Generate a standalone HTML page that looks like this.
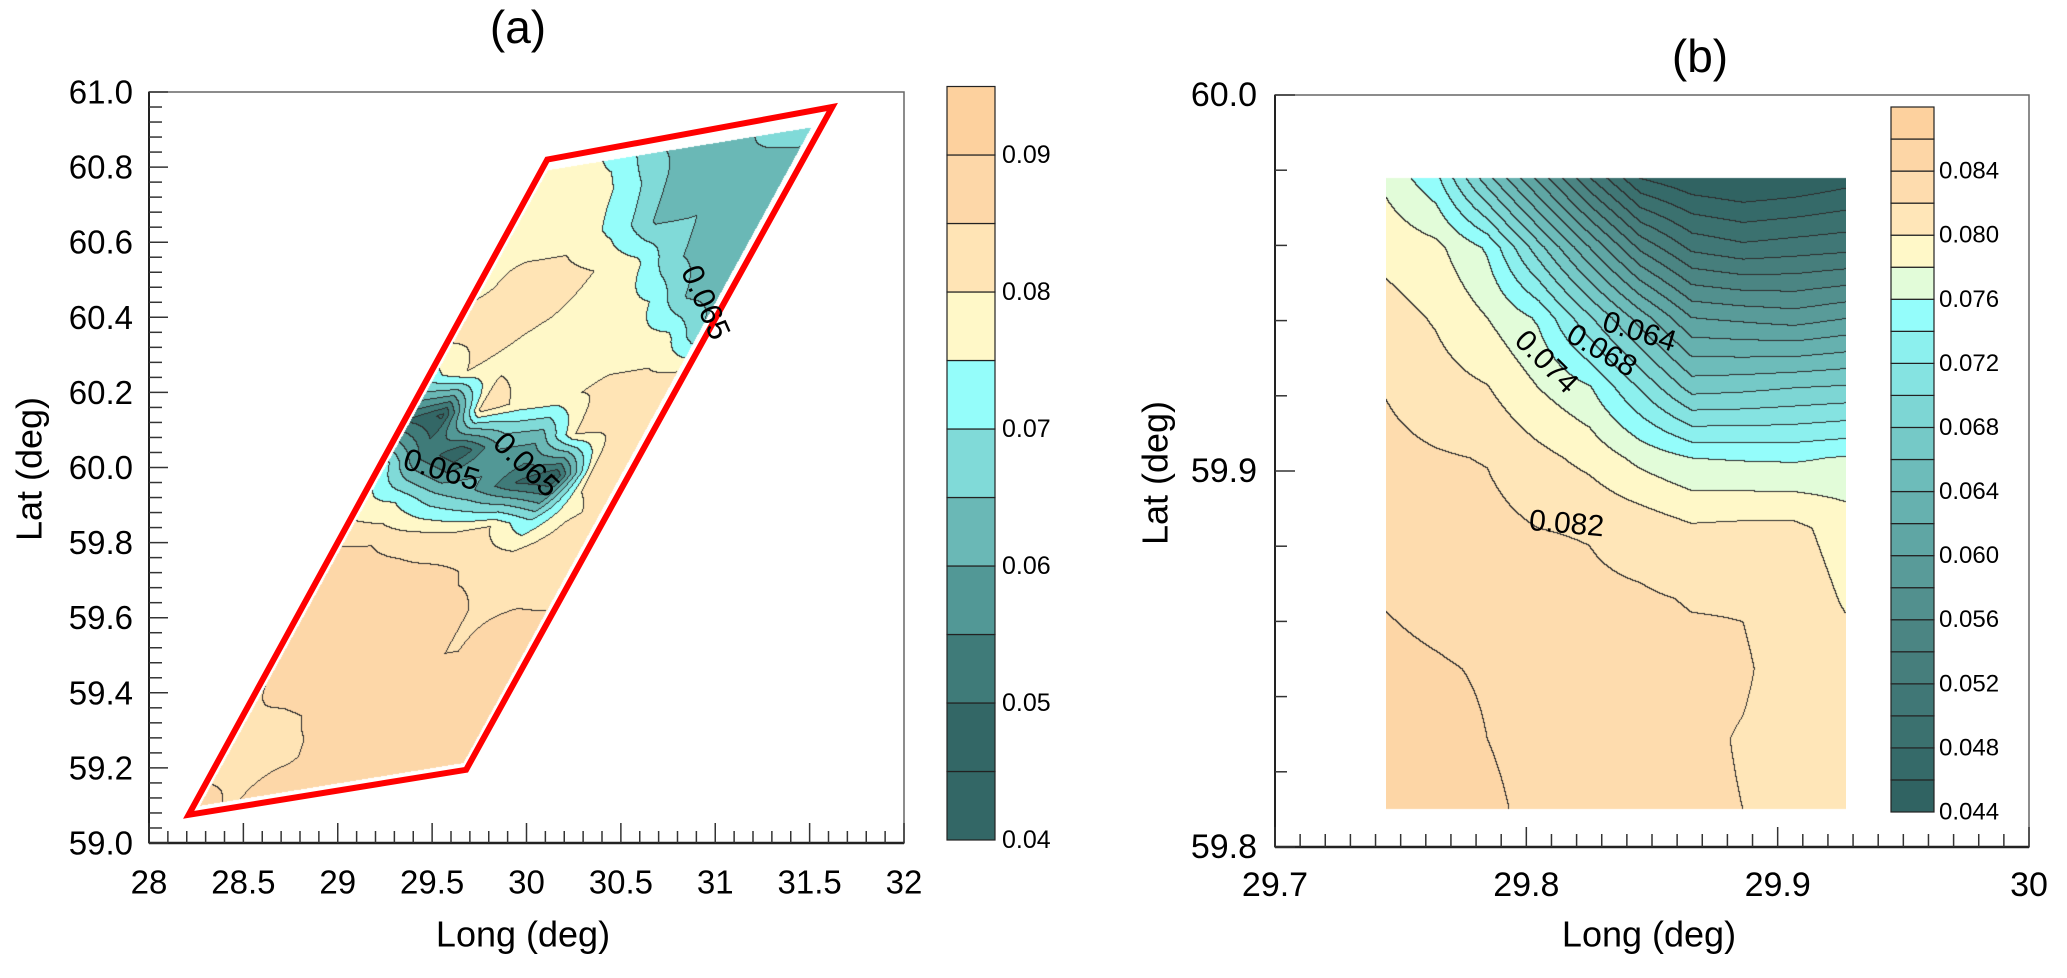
<!DOCTYPE html>
<html><head><meta charset="utf-8">
<style>
html,body{margin:0;padding:0;background:#fff;}
#root{position:relative;width:2067px;height:978px;overflow:hidden;background:#fff;font-family:"Liberation Sans",Arial,sans-serif;}
canvas{position:absolute;}
svg{position:absolute;left:0;top:0;}
</style></head>
<body>
<div id="root">
<canvas id="ca" style="left:149px;top:92px" width="755" height="751"></canvas>
<canvas id="cb" style="left:1386px;top:177px" width="460" height="633"></canvas>
<svg id="sv" width="2067" height="978"></svg>
</div>
<script>
// ---------- Panel (a) data ----------
const aLonTicks = [28, 28.5, 29, 29.5, 30, 30.5, 31, 31.5, 32];
const aLatTicks = [59.0, 59.2, 59.4, 59.6, 59.8, 60.0, 60.2, 60.4, 60.6, 60.8, 61.0];
const aLevels = [0.04,0.045,0.05,0.055,0.06,0.065,0.07,0.075,0.08,0.085,0.09,0.095];
const aLevelLabels = [0.04,0.05,0.06,0.07,0.08,0.09];
const aBoxLon = [28.21, 29.68, 31.62, 30.11];
const aBoxLat = [59.075, 59.195, 60.96, 60.82];
// field values on strip grid: rows top (far end) -> bottom, cols left edge -> right edge
const aField = [
[0.074, 0.077, 0.072, 0.064, 0.062, 0.063, 0.070, 0.071],
[0.078, 0.078, 0.077, 0.070, 0.062, 0.063, 0.062, 0.063],
[0.080, 0.079, 0.078, 0.073, 0.064, 0.065, 0.062, 0.063],
[0.079, 0.081, 0.082, 0.080, 0.077, 0.066, 0.062, 0.062],
[0.082, 0.082, 0.0805, 0.0795, 0.078, 0.075, 0.064, 0.062],
[0.072, 0.080, 0.079, 0.078, 0.078, 0.078, 0.077, 0.064],
[0.050, 0.044, 0.083, 0.0785, 0.079, 0.081, 0.0815, 0.082],
[0.075, 0.055, 0.045, 0.060, 0.061, 0.081, 0.0815, 0.080],
[0.078, 0.075, 0.066, 0.060, 0.050, 0.044, 0.081, 0.082],
[0.086, 0.085, 0.083, 0.080, 0.080, 0.070, 0.079, 0.082],
[0.0875, 0.0875, 0.0875, 0.087, 0.0845, 0.084, 0.0845, 0.084],
[0.0875, 0.0855, 0.0885, 0.0885, 0.086, 0.0845, 0.0845, 0.0835],
[0.0845, 0.0875, 0.0885, 0.0875, 0.085, 0.085, 0.0875, 0.0875],
[0.0845, 0.084, 0.0855, 0.085, 0.086, 0.085, 0.0875, 0.0875],
[0.084, 0.084, 0.0845, 0.0875, 0.086, 0.0875, 0.087, 0.0875],
[0.0875, 0.0845, 0.088, 0.0885, 0.0885, 0.0885, 0.0885, 0.0885]
];
const aLabelText = ["0.065","0.065","0.065"];
const aLabelLon = [29.55, 30.0, 30.95];
const aLabelLat = [59.995, 60.008, 60.44];

// ---------- Panel (b) data ----------
const bLonTicks = [29.7, 29.8, 29.9, 30];
const bLonTickLabels = ["29.7","29.8","29.9","30"];
const bLatTicks = [59.8, 59.9, 60.0];
const bLevels0 = 0.044, bLevelStep = 0.002, bLevelCount = 22;
const bLevelLabels = [0.044,0.048,0.052,0.056,0.060,0.064,0.068,0.072,0.076,0.080,0.084];
const bDataLon = [29.744, 29.927];
const bDataLat = [59.81, 59.978];
const bField = [
[0.0775,0.0745,0.0667,0.0594,0.052,0.0458,0.0442,0.0435,0.0440,0.0450],
[0.0794,0.0785,0.0757,0.0688,0.062,0.0555,0.0515,0.0505,0.0510,0.0514],
[0.0808,0.0798,0.0780,0.0757,0.0703,0.0650,0.0600,0.0595,0.0590,0.0599],
[0.0819,0.0808,0.0801,0.0780,0.0762,0.0718,0.0672,0.0675,0.0680,0.0683],
[0.0826,0.0822,0.0819,0.0806,0.0794,0.0774,0.0760,0.0758,0.0757,0.0762],
[0.0833,0.0828,0.0826,0.0820,0.0819,0.0813,0.0803,0.0805,0.0805,0.0791],
[0.0839,0.0834,0.0830,0.0826,0.0823,0.0822,0.0819,0.0819,0.0812,0.0798],
[0.0845,0.0842,0.0838,0.0832,0.0828,0.0826,0.0824,0.0822,0.0813,0.0808],
[0.0852,0.0848,0.0840,0.0835,0.0830,0.0826,0.0823,0.0819,0.0814,0.0810],
[0.0858,0.0852,0.0843,0.0836,0.0831,0.0827,0.0823,0.0820,0.0815,0.0811]
];
const bLabelText = ["0.064","0.068","0.074","0.082"];
const bLabelLon = [29.845, 29.830, 29.808, 29.816];
const bLabelLat = [59.937, 59.932, 59.929, 59.886];

// ---------- styles / scales ----------
const aColors = ["#336766","#336766","#3f7b79","#529896","#6ab8b6","#80dad8","#94fdfa","#fff8c8","#ffe4b5","#fdd7a8","#fdd19e"];
function hex(c){return [parseInt(c.substr(1,2),16),parseInt(c.substr(3,2),16),parseInt(c.substr(5,2),16)];}
function toHex(a){return "#"+a.map(v=>Math.round(v).toString(16).padStart(2,"0")).join("");}
const bAnch = {0:"#306362",5:"#4b8583",10:"#6dbcba",12:"#7dd6d4",15:"#94fdfb",16:"#e2fcd9",17:"#fff8c8",18:"#ffe6b8",19:"#fedcae",20:"#fdd6a6",21:"#fdd19e"};
const bColors=[];
(function(){const keys=Object.keys(bAnch).map(Number).sort((a,b)=>a-b);
for(let i=0;i<bLevelCount;i++){let k=0;while(k<keys.length-1&&keys[k+1]<i)k++;
 const k0=keys[k],k1=keys[Math.min(k+1,keys.length-1)];
 if(k0===i||k1===k0){bColors.push(bAnch[k0]);continue;}
 if(k1===i){bColors.push(bAnch[k1]);continue;}
 const t=(i-k0)/(k1-k0),c0=hex(bAnch[k0]),c1=hex(bAnch[k1]);
 bColors.push(toHex(c0.map((v,j)=>v+(c1[j]-v)*t)));}})();

const xA = lon => 149 + (lon-28)/4*755;
const yA = lat => 843 - (lat-59)/2*751;
const xB = lon => 1275 + (lon-29.7)/0.3*754;
const yB = lat => 847 - (lat-59.8)/0.2*752;
const yCA = v => 840 - (v-0.04)/0.055*753.5;
const yCB = v => 812 - (v-bLevels0)/(bLevelStep*bLevelCount)*705;

function bilin(G,r,c){
 const nr=G.length,nc=G[0].length;
 r=Math.max(0,Math.min(nr-1,r));c=Math.max(0,Math.min(nc-1,c));
 const r0=Math.min(nr-2,Math.floor(r)),c0=Math.min(nc-2,Math.floor(c));
 const fr=r-r0,fc=c-c0;
 return G[r0][c0]*(1-fr)*(1-fc)+G[r0][c0+1]*(1-fr)*fc+G[r0+1][c0]*fr*(1-fc)+G[r0+1][c0+1]*fr*fc;
}
function paint(canvas,bandFn,colors){
 const w=canvas.width,h=canvas.height,ctx=canvas.getContext("2d");
 const band=new Int16Array(w*h);
 for(let y=0;y<h;y++)for(let x=0;x<w;x++)band[y*w+x]=bandFn(x+0.5,y+0.5);
 const img=ctx.createImageData(w,h),d=img.data,rgb=colors.map(hex);
 for(let y=0;y<h;y++)for(let x=0;x<w;x++){
  const i=y*w+x,b=band[i];if(b<0)continue;
  let c=rgb[b];
  const br=x<w-1?band[i+1]:b,bd=y<h-1?band[i+w]:b;
  if((br>=0&&br!==b)||(bd>=0&&bd!==b))c=[45,45,45];
  d[i*4]=c[0];d[i*4+1]=c[1];d[i*4+2]=c[2];d[i*4+3]=255;}
 ctx.putImageData(img,0,0);
}
// panel a fill
(function(){
 const BL=[xA(aBoxLon[0]),yA(aBoxLat[0])],BR=[xA(aBoxLon[1]),yA(aBoxLat[1])],TL=[xA(aBoxLon[3]),yA(aBoxLat[3])];
 const ex=[BR[0]-BL[0],BR[1]-BL[1]],ey=[TL[0]-BL[0],TL[1]-BL[1]],det=ex[0]*ey[1]-ex[1]*ey[0];
 const nr=aField.length,nc=aField[0].length;
 paint(document.getElementById("ca"),function(px,py){
  const X=149+px-BL[0],Y=92+py-BL[1];
  const v=(X*ey[1]-Y*ey[0])/det,u=(ex[0]*Y-ex[1]*X)/det;
  if(u<0.012||u>0.982||v<0.025||v>0.975)return -1;
  const val=bilin(aField,(1-u)*(nr-1),v*(nc-1));
  return Math.max(0,Math.min(10,Math.floor((val-0.04)/0.005)));
 },aColors);
})();
// panel b fill
(function(){
 const x0=xB(bDataLon[0]),x1=xB(bDataLon[1]),y0=yB(bDataLat[1]),y1=yB(bDataLat[0]);
 const nr=bField.length,nc=bField[0].length;
 paint(document.getElementById("cb"),function(px,py){
  const X=1386+px,Y=177+py;
  if(X>x1||Y>y1||X<x0||Y<y0)return -1;
  const val=bilin(bField,(Y-y0)/(y1-y0)*(nr-1),(X-x0)/(x1-x0)*(nc-1));
  return Math.max(0,Math.min(bLevelCount-1,Math.floor((val-bLevels0)/bLevelStep+1e-9)));
 },bColors);
})();

// ---------- SVG overlay ----------
const sv=document.getElementById("sv");
const NS="http://www.w3.org/2000/svg";
function mk(tag,attrs,parent){const e=document.createElementNS(NS,tag);for(const k in attrs)e.setAttribute(k,attrs[k]);(parent||sv).appendChild(e);return e;}
function txt(s,x,y,size,anchor,parent,extra){const t=mk("text",Object.assign({x:x,y:y,"font-size":size,"text-anchor":anchor||"middle","dominant-baseline":"central",fill:"#000","font-family":"Liberation Sans, Arial, sans-serif"},extra||{}),parent);t.textContent=s;return t;}

// Panel a axes
const ga=mk("g",{});


let e;
e=mk("rect",{x:149,y:92,width:755,height:751,fill:"none",stroke:"#666","stroke-width":1.5},ga);


e=mk("line",{x1:149,y1:843,x2:904,y2:843,stroke:"#222","stroke-width":2.5},ga);


e=mk("line",{x1:149,y1:92,x2:149,y2:843,stroke:"#222","stroke-width":2},ga);


for(let k=0;k<=40;k++){const lon=28+k*0.1,x=xA(lon),maj=k%5===0;
 e=mk("line",{x1:x,y1:843,x2:x,y2:843-(maj?20:12),stroke:"#333","stroke-width":1.5},ga);
 
 }
for(let k=0;k<=50;k++){const lat=59+k*0.04,y=yA(lat),maj=k%5===0;
 e=mk("line",{x1:149,y1:y,x2:149+(maj?19:13),y2:y,stroke:"#333","stroke-width":1.5},ga);
 
 }
aLonTicks.forEach(v=>{e=txt(String(v),xA(v),882,33,"middle",ga);
 
 });
aLatTicks.forEach(v=>{e=txt(v.toFixed(1),133,yA(v),33,"end",ga);
 
 });
e=txt("Long (deg)",523,934,36,"middle",ga);


e=txt("Lat (deg)",29,469,36,"middle",ga,{transform:"rotate(-90 29 469)"});


e=txt("(a)",518,27,46,"middle",ga);


// red region box
e=mk("polygon",{points:aBoxLon.map((lo,i)=>xA(lo)+","+yA(aBoxLat[i])).join(" "),fill:"none",stroke:"#ff0000","stroke-width":6,"stroke-linejoin":"miter"},ga);


// contour labels a
const aRot=[17,44,66];
aLabelText.forEach((s,i)=>{const x=xA(aLabelLon[i]),y=yA(aLabelLat[i]);
 e=txt(s,x,y,31,"middle",ga,{transform:"rotate("+aRot[i]+" "+x+" "+y+")"});
 
 });
// colorbar a
for(let i=0;i<aLevels.length-1;i++){
 e=mk("rect",{x:947,y:yCA(aLevels[i+1]),width:48,height:yCA(aLevels[i])-yCA(aLevels[i+1]),fill:aColors[i],stroke:"#222","stroke-width":1.2},ga);
 
 }
aLevelLabels.forEach(v=>{e=txt(v.toFixed(2),1002,yCA(v),25,"start",ga);
 
 });

// Panel b axes
const gb=mk("g",{});


e=mk("rect",{x:1275,y:95,width:754,height:752,fill:"none",stroke:"#666","stroke-width":1.5},gb);


e=mk("line",{x1:1275,y1:847,x2:2029,y2:847,stroke:"#222","stroke-width":2.5},gb);


e=mk("line",{x1:1275,y1:95,x2:1275,y2:847,stroke:"#222","stroke-width":2},gb);


for(let k=0;k<=30;k++){const x=xB(29.7+k*0.01),maj=k%10===0;
 e=mk("line",{x1:x,y1:847,x2:x,y2:847-(maj?20:13),stroke:"#333","stroke-width":1.5},gb);
 
 }
for(let k=0;k<=10;k++){const y=yB(59.8+k*0.02),maj=k%5===0;
 e=mk("line",{x1:1275,y1:y,x2:1275+(maj?20:12),y2:y,stroke:"#333","stroke-width":1.5},gb);
 
 }
bLonTicks.forEach((v,i)=>{e=txt(bLonTickLabels[i],xB(v),885,34,"middle",gb);
 
 });
bLatTicks.forEach(v=>{e=txt(v.toFixed(1),1257,yB(v),34,"end",gb);
 
 });
e=txt("Long (deg)",1649,934,36,"middle",gb);


e=txt("Lat (deg)",1155,473,36,"middle",gb,{transform:"rotate(-90 1155 473)"});


e=txt("(b)",1700,56,46,"middle",gb);


const bRot=[17,30,45,5];
bLabelText.forEach((s,i)=>{const x=xB(bLabelLon[i]),y=yB(bLabelLat[i]);
 e=txt(s,x,y,30,"middle",gb,{transform:"rotate("+bRot[i]+" "+x+" "+y+")"});
 
 });
for(let i=0;i<bLevelCount;i++){const lo=bLevels0+i*bLevelStep,hi=lo+bLevelStep;
 e=mk("rect",{x:1891,y:yCB(hi),width:43,height:yCB(lo)-yCB(hi),fill:bColors[i],stroke:"#222","stroke-width":1.2},gb);
 
 }
bLevelLabels.forEach(v=>{e=txt(v.toFixed(3),1939,yCB(v),24,"start",gb);
 
 });
</script>
</body></html>
